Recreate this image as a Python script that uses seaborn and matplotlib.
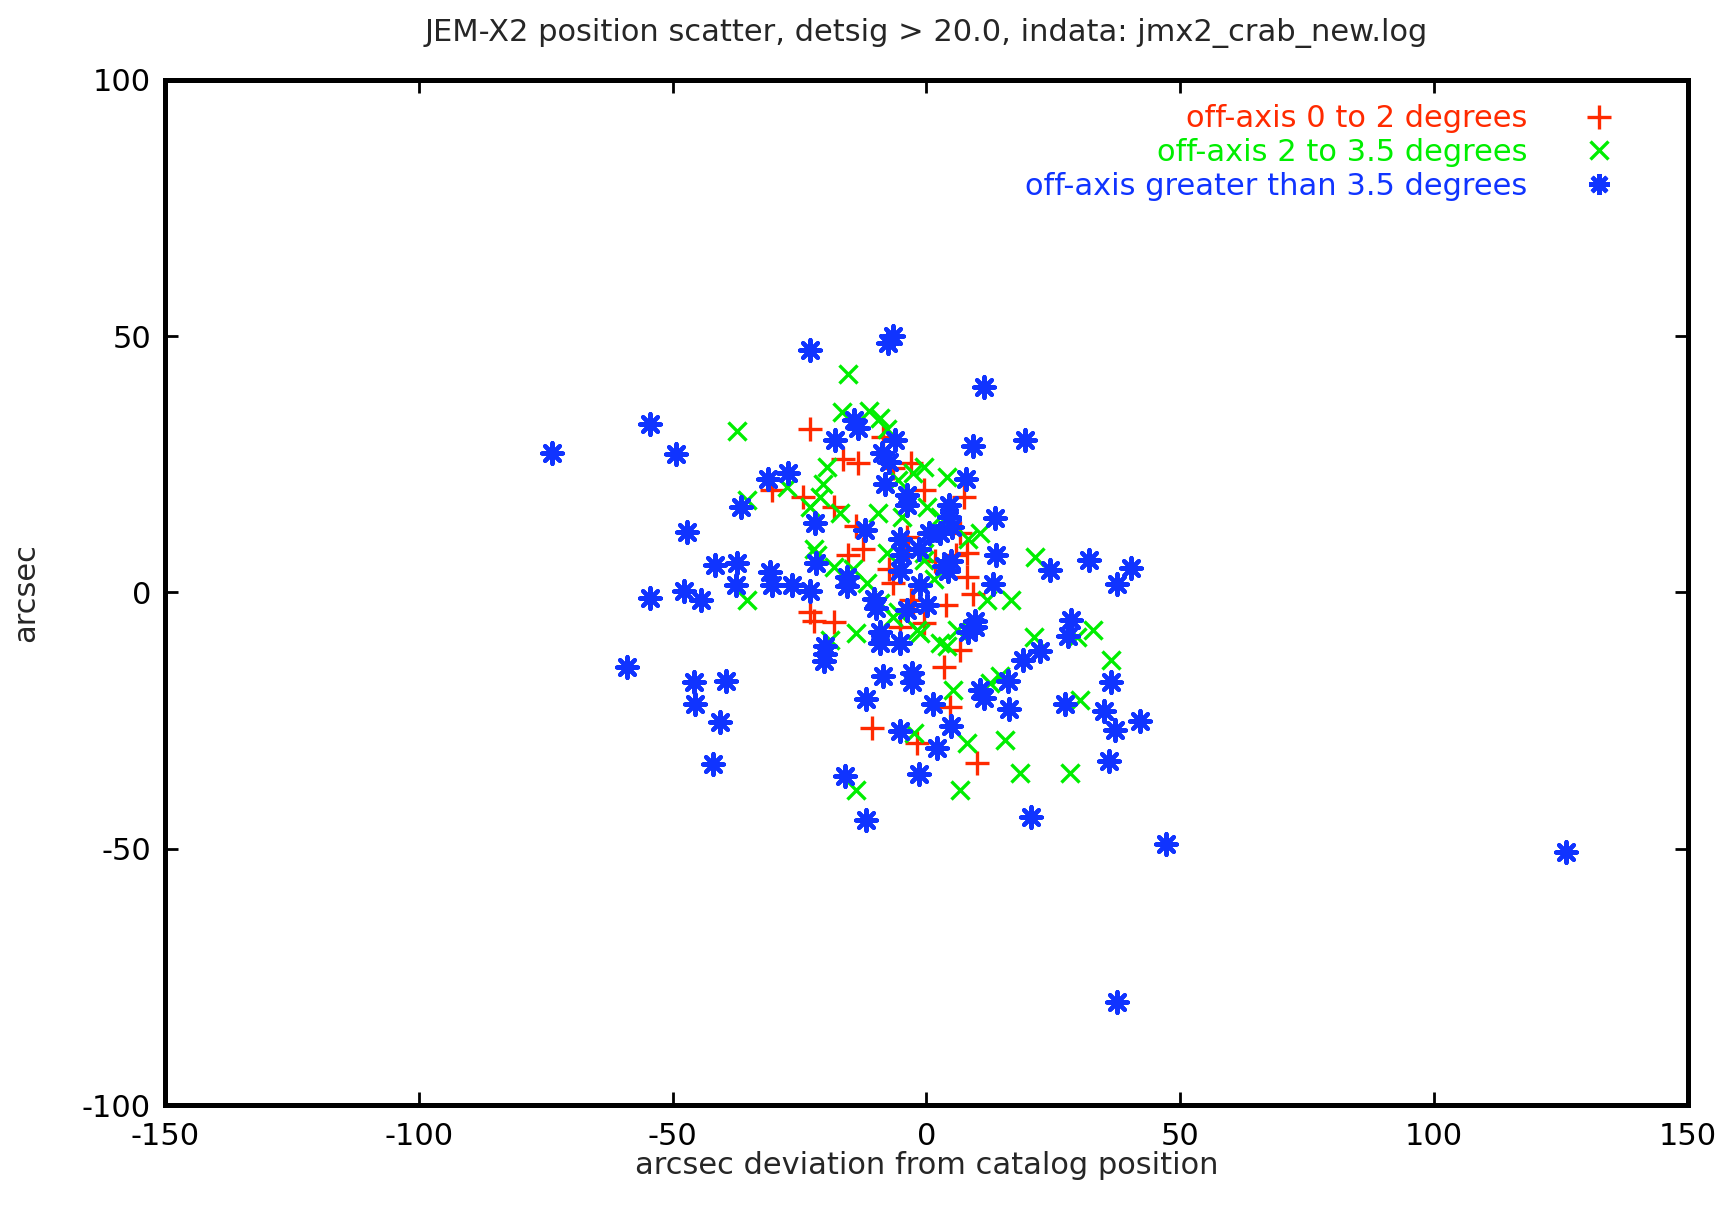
import numpy as np
import pandas as pd
import matplotlib
matplotlib.use("Agg")
import matplotlib.pyplot as plt
from matplotlib.lines import Line2D
import seaborn as sns

title = "JEM-X2 position scatter, detsig > 20.0, indata: jmx2_crab_new.log"
xlabel = "arcsec deviation from catalog position"
ylabel = "arcsec"
labels = ["off-axis 0 to 2 degrees", "off-axis 2 to 3.5 degrees",
          "off-axis greater than 3.5 degrees"]
colors = ["#ff2a00", "#00ee00", "#1034ff"]
xticks = [-150, -100, -50, 0, 50, 100, 150]
yticks = [-100, -50, 0, 50, 100]

red_x = [-22.9, -16.4, -13.5, -6.6, -8.6, -3.1, -0.5, 7.3, -30.4, -24.4, -18.3, -13.8,
         -12.5, -15.5, -3.8, 6.6, 7.9, -7.3, -6.6, -3.1, -5.3, -0.5, 7.9, 9.2, -22.9,
         -18.3, -22.2, 3.4, 4.6, 9.9, -1.8, -10.7, 6.6, 1.6, 5.9, 3.8, -2.7, -3.6]
red_y = [31.8, 26.0, 25.3, 24.3, 30.3, 25.3, 20.0, 18.7, 20.0, 18.7, 16.7, 12.9,
         8.4, 7.3, 10.9, 11.6, 7.7, 4.5, 1.9, -1.5, -6.7, -6.0, 3.0, -0.2, -3.9,
         -5.8, -5.6, -14.6, -22.3, -33.3, -29.4, -26.4, -11.2, 6.2, 7.3, -2.4, -2.4, 8.4]

green_x = [-15.5, -37.4, -16.6, -11.4, -9.2, -19.6, -20.3, -20.9, -35.4, -27.4, -23.0,
           -17.0, -9.6, -22.2, -18.3, -0.5, 4.0, 0.1, 10.5, -5.7, -7.7, -0.5, -35.4,
           -21.6, -14.4, -11.8, -9.2, -6.6, -13.8, -19.0, -13.8, 21.3, 16.6, 12.0, 6.0,
           -1.8, 2.7, 21.1, 32.9, 29.6, 36.3, 30.2, 5.3, 12.5, -2.5, 7.9, 15.5, 18.5,
           28.3, 6.6, -7.7, -0.5, 1.4, -5.7, -1.2, 4.0, 14.4, -4.9, -2.7, 8.1, 2.7]
green_y = [42.7, 31.5, 35.2, 35.4, 34.1, 24.5, 21.2, 18.7, 18.0, 20.6, 16.7,
           15.5, 15.5, 8.4, 4.9, 24.5, 22.5, 16.7, 11.6, 21.9, 31.8, 7.7, -1.5,
           7.3, 4.5, 1.9, -2.1, -4.7, -38.6, -9.2, -7.9, 6.9, -1.5, -1.5, -7.3,
           -7.3, -9.9, -8.6, -7.3, -8.6, -13.1, -21.0, -19.1, -17.6, -27.5, -29.4, -28.8, -35.2,
           -35.2, -38.6, 7.7, 6.4, 2.6, -3.9, -7.9, -10.5, -16.3, 14.8, 23.4, 10.5, 14.8]

blue_x = [-73.8, -54.5, -49.3, -22.9, -6.6, -7.5, 11.4, 19.4, 9.2, -47.1, -36.5, -31.3,
          -27.2, -18.1, -14.2, -13.5, -41.7, -37.4, -37.6, -47.8, -44.5, -54.5, -30.4,
          -30.9, -26.5, -22.9, -21.8, -22.0, -12.2, -59.0, -45.8, -39.5, -45.6, -40.6,
          -42.1, -16.1, -11.9, -20.0, -20.2, -20.0, -12.0, -8.6, -5.3, -2.9, -2.9, -1.4,
          1.2, 2.0, 4.9, 10.5, 11.4, 16.1, 16.3, 19.0, 22.4, 20.5, 27.2, 28.5, 27.9,
          35.9, 35.0, 36.3, 37.1, 42.1, 37.6, 40.2, 32.0, 24.4, 13.7, 13.1, 13.5, 7.7,
          47.1, 37.6, 126.0, -15.7, -15.7, -10.3, -9.9, -9.2, -9.2, -5.3, -3.8, 0.1,
          3.4, 4.2, 4.9, 8.1, 9.6, 9.6, -5.3, -4.9, -5.3, -1.4, 0.5, 2.7, -8.8, -6.2,
          -8.1, -3.8, -3.8, 4.4, 4.4, -1.2, -7.3, 5.1]
blue_y = [27.3, 32.8, 27.0, 47.4, 50.0, 48.7, 40.1, 29.8, 28.5, 11.8, 16.7, 22.1,
          23.4, 29.8, 33.7, 32.0, 5.4, 5.8, 1.5, 0.2, -1.5, -1.1, 1.5,
          3.9, 1.5, 0.2, 5.8, 13.5, 12.2, -14.6, -17.4, -17.2, -21.7, -25.3,
          -33.5, -35.8, -44.4, -10.5, -13.3, -12.0, -20.8, -16.3, -27.0, -15.7, -17.4, -35.4,
          -21.7, -30.3, -26.0, -19.1, -20.6, -17.2, -22.7, -13.1, -11.4, -43.8, -21.7, -5.4, -8.4,
          -32.8, -23.2, -17.4, -26.8, -25.1, 1.7, 4.7, 6.4, 4.3, 7.3, 1.7, 14.6, 22.1,
          -49.1, -79.8, -50.6, 1.3, 3.0, -1.3, -3.0, -7.7, -9.9, -9.9, -3.4, -2.4,
          5.2, 4.1, 6.2, -7.7, -6.7, -5.6, 4.1, 7.3, 10.5, 8.4, 11.6, 11.6, 27.3, 29.8,
          21.2, 19.1, 17.0, 17.0, 14.8, 1.5, 25.5, 12.7]

sns.set_theme(style="white")
plt.rcParams["font.family"] = ["DejaVu Sans"]
plt.rcParams["axes.unicode_minus"] = False

fig = plt.figure(figsize=(17.24, 12.11), dpi=100)
ax = fig.add_axes([0.0957, 0.0875, 0.8834, 0.8465])

asterisk = (8, 2, 0)
series = [
    (red_x, red_y, "+", 17, 2.4),
    (green_x, green_y, "x", 13, 2.4),
    (blue_x, blue_y, asterisk, 15, 3.0),
]
for (xs, ys, mk, ms, lw), col in zip(series, colors):
    df = pd.DataFrame({"x": xs, "y": ys})
    sns.scatterplot(data=df, x="x", y="y", marker=mk, s=ms ** 2, color=col,
                    linewidth=lw, ax=ax, zorder=3)

ax.set_xlim(-150, 150)
ax.set_ylim(-100, 100)
ax.set_xticks(xticks)
ax.set_yticks(yticks)
ax.tick_params(direction="in", length=9.5, width=2, labelsize=22,
               top=True, right=True, bottom=True, left=True, colors="black")
ax.tick_params(axis="x", pad=12)
ax.tick_params(axis="y", pad=10)
for sp in ax.spines.values():
    sp.set_linewidth(3.6)
    sp.set_color("black")
    sp.set_visible(True)

ax.set_title(title, fontsize=22, pad=28)
ax.set_xlabel(xlabel, fontsize=22, labelpad=0)
ax.set_ylabel(ylabel, fontsize=22, labelpad=30)

handles = [
    Line2D([], [], ls="none", marker="+", markersize=17, mew=2.4, color=colors[0]),
    Line2D([], [], ls="none", marker="x", markersize=13, mew=2.4, color=colors[1]),
    Line2D([], [], ls="none", marker=asterisk, markersize=15, mew=3.0, color=colors[2]),
]
ax.legend(handles, labels, loc="upper right", frameon=False, markerfirst=False,
          labelcolor=colors, fontsize=22, handlelength=1.5, handletextpad=1.6,
          labelspacing=0.15, borderaxespad=0.4, bbox_to_anchor=(0.973, 1.0))

fig.savefig("out.png", dpi=100)
